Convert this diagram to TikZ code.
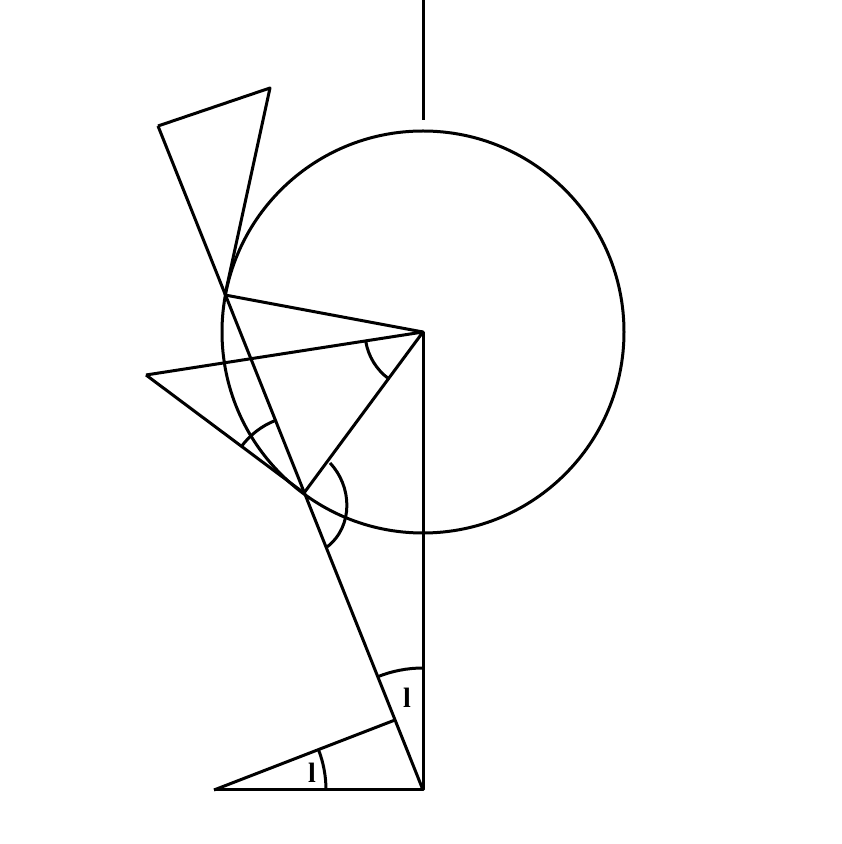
\documentclass[tikz,border=0pt]{standalone}
\usepackage{fontspec}
\setmainfont{Liberation Serif}
\usetikzlibrary{calc}
\begin{document}
\begin{tikzpicture}[x=1pt,y=1pt,
  geo/.style={line width=3pt, line join=round},
  lbl/.style={font=\fontsize{28}{30}\selectfont\bfseries, inner sep=0pt}]
\useasboundingbox (0,0) rectangle (842,844);
% points
\coordinate (O) at (423,512);
\coordinate (Top) at (423,844);
\coordinate (TopEnd) at (423,724);
\coordinate (B) at (423,54);
\coordinate (L) at (214,54);
\coordinate (T1) at (158,718);
\coordinate (T2) at (270,756);
\coordinate (P) at (225,549);
\coordinate (Q) at (146,469);
\coordinate (R) at (304,351);
\coordinate (S) at (395,124);
% circle
\draw[geo] (O) circle (201);
% lines
\draw[geo] (Top) -- (TopEnd);
\draw[geo] (O) -- (B) -- (L);
\draw[geo] (T1) -- (B);
\draw[geo] (T1) -- (T2) -- (P);
\draw[geo] (P) -- (O);
\draw[geo] (Q) -- (O) -- (R) -- (Q);
\draw[geo] (L) -- (S);
% angle marks
\draw[geo] ($(O)+(188.8:58)$) arc[start angle=188.8, end angle=233.5, radius=58];
\draw[geo] ($(R)+(111.75:78)$) arc[start angle=111.75, end angle=143.3, radius=78];
\draw[geo] (330,381) .. controls (352,358) and (354,318) .. (327,297);
\draw[geo] ($(B)+(90:122)$) arc[start angle=90, end angle=111.8, radius=122];
\draw[geo] ($(L)+(0:112)$) arc[start angle=0, end angle=21.1, radius=112];
% labels
\node[lbl] (la) at (407,146) {l};
\node[lbl] (lb) at (312,71) {l};
\end{tikzpicture}
\end{document}
